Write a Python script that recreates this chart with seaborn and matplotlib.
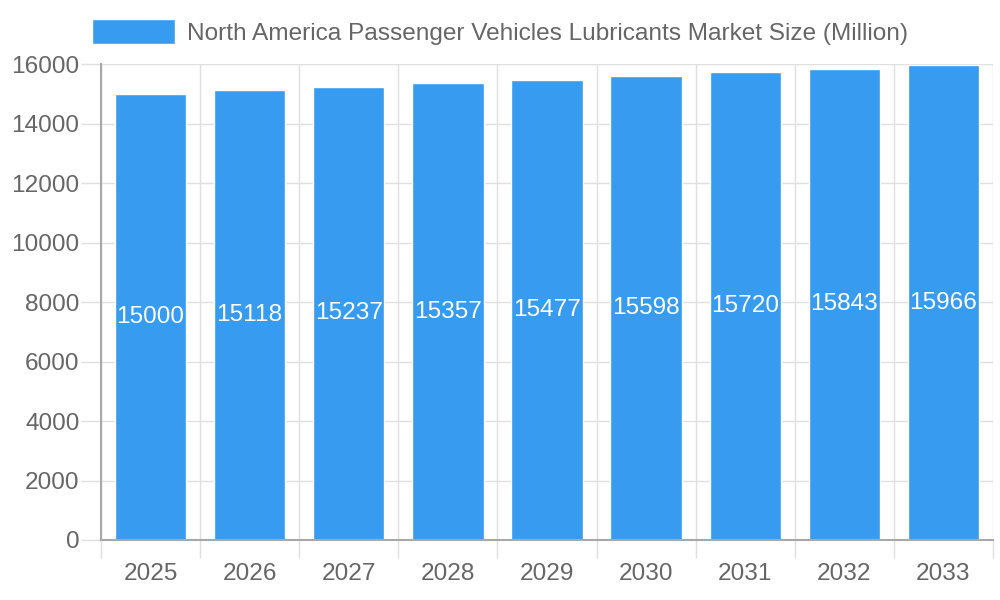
import matplotlib
matplotlib.use('Agg')
import matplotlib.pyplot as plt
import seaborn as sns
import numpy as np
import pandas as pd

years = ['2025', '2026', '2027', '2028', '2029', '2030', '2031', '2032', '2033']
market_size = [15000, 15118, 15237, 15357, 15477, 15598, 15720, 15843, 15966]
series_name = 'North America Passenger Vehicles Lubricants Market Size (Million)'

df = pd.DataFrame({'Year': years, 'Size': market_size})

sns.set_style('white')
plt.rcParams['font.family'] = ['Liberation Sans', 'DejaVu Sans']

bar_color = '#379BF0'
text_grey = '#666666'
grid_grey = '#e0e0e0'
axis_grey = '#a8a8a8'
fs = 17.6

fig = plt.figure(figsize=(10, 6), dpi=100)
ax = fig.add_axes([0.101, 0.1, 0.892, 0.7933])

sns.barplot(x='Year', y='Size', data=df, color=bar_color, width=0.72,
            saturation=1, ax=ax, label=series_name, zorder=3)

ax.set_xlim(-0.5, len(years) - 0.5)
ax.set_ylim(0, 16000)
ax.set_yticks(np.arange(0, 16001, 2000))
ax.set_xlabel('')
ax.set_ylabel('')

# vertical grid lines between the categories
ax.set_xticks(np.arange(-0.5, len(years), 1), minor=True)
ax.grid(axis='x', which='minor', color=grid_grey, linewidth=1, zorder=0)
ax.grid(axis='y', which='major', color=grid_grey, linewidth=1, zorder=0)
ax.tick_params(axis='x', which='minor', bottom=True, length=13, color=grid_grey, width=1)
ax.tick_params(axis='x', which='major', bottom=True, length=0, pad=16.5, labelsize=fs, labelcolor=text_grey)
ax.tick_params(axis='y', left=True, length=14.4, color=grid_grey, width=1, pad=1, labelsize=fs, labelcolor=text_grey)

for s in ['top', 'right']:
    ax.spines[s].set_visible(False)
for s in ['left', 'bottom']:
    ax.spines[s].set_color(axis_grey)
    ax.spines[s].set_linewidth(1.5)
    ax.spines[s].set_zorder(5)

# value labels in the middle of each bar
for container in ax.containers:
    for bar, v in zip(container, market_size):
        ax.text(bar.get_x() + bar.get_width() / 2, v / 2, str(v),
                ha='center', va='center', color='white', fontsize=fs, zorder=4)

ax.legend(loc='center', bbox_to_anchor=(0.5, 0.947), bbox_transform=fig.transFigure,
          frameon=False, fontsize=fs, labelcolor=text_grey,
          handlelength=3.4, handleheight=1.2, handletextpad=0.5)

plt.savefig('out.png', dpi=100)
